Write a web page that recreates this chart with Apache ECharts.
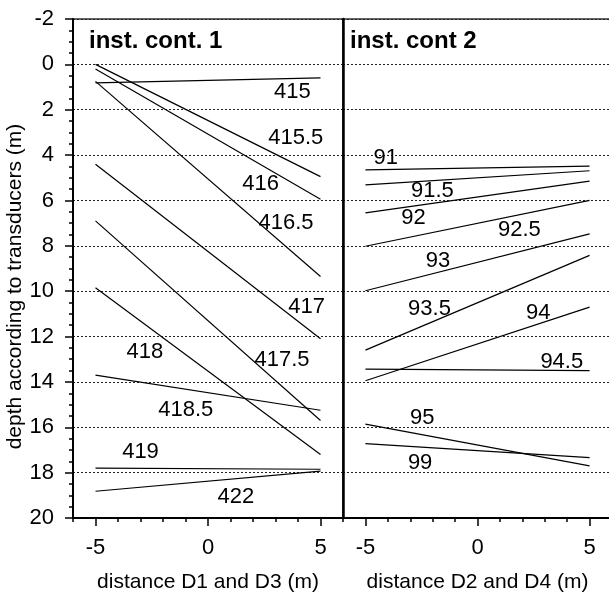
<!DOCTYPE html>
<html>
<head>
<meta charset="utf-8">
<script src="https://cdn.jsdelivr.net/npm/echarts@6/dist/echarts.min.js"></script>
<style>
html, body { margin: 0; padding: 0; background: #fff; }
#chart { width: 609px; height: 596px; }
</style>
</head>
<body>
<div id="chart"></div>
<script>
// both panels: every line runs from x = -5 to x = 5
const xEnds = [-5, 5];

// left panel (inst. cont. 1)
const leftNames = ['415', '415.5', '416', '416.5', '417', '417.5', '418', '418.5', '419', '422'];
const leftStart = [0.82, 0.0, 0.2, 0.75, 4.4, 6.9, 9.85, 13.7, 17.8, 18.82];
const leftEnd = [0.6, 4.95, 5.95, 9.35, 12.1, 15.7, 17.2, 15.25, 17.85, 17.93];
const leftLabelX = [3.75, 3.9, 2.34, 3.47, 4.38, 3.29, -2.81, -0.99, -3.0, 1.24];
const leftLabelY = [1.2, 3.25, 5.25, 7.0, 10.68, 13.03, 12.67, 15.23, 17.1, 19.06];

// right panel (inst. cont 2)
const rightNames = ['91', '91.5', '92', '92.5', '93', '93.5', '94', '94.5', '95', '99'];
const rightStart = [4.65, 5.31, 6.55, 8.02, 9.98, 12.6, 13.95, 13.44, 15.86, 16.72];
const rightEnd = [4.49, 4.69, 5.15, 6.0, 7.47, 8.42, 10.7, 13.5, 17.7, 17.34];
const rightLabelX = [-4.09, -2.01, -2.86, 1.87, -1.76, -2.14, 2.71, 3.76, -2.47, -2.56];
const rightLabelY = [4.12, 5.6, 6.78, 7.32, 8.67, 10.77, 10.95, 13.1, 15.57, 17.56];

const majorX = [-5, 0, 5];

const font = "'Liberation Sans', Arial, sans-serif";
const chart = echarts.init(document.getElementById('chart'));

lineSeries = (names, starts, ends, idx) => names.map((n, i) => ({
    name: n,
    type: 'line',
    xAxisIndex: idx,
    yAxisIndex: idx,
    data: [[xEnds[0], starts[i]], [xEnds[1], ends[i]]],
    symbol: 'none',
    silent: true,
    lineStyle: {color: '#000', width: 1.2}
}));

labelSeries = (names, xs, ys, idx) => ({
    type: 'scatter',
    xAxisIndex: idx,
    yAxisIndex: idx,
    symbolSize: 0,
    silent: true,
    itemStyle: {opacity: 1, color: '#000'},
    data: names.map((n, i) => [xs[i], ys[i], n]),
    label: {
        show: true,
        position: 'inside',
        formatter: p => p.data[2],
        color: '#000',
        opacity: 1,
        textBorderWidth: 0,
        fontSize: 22,
        fontFamily: font
    }
});

xMain = (grid, name) => ({
    gridIndex: grid,
    type: 'value',
    min: -6,
    max: 6,
    interval: 1,
    axisLine: {onZero: false, lineStyle: {color: '#000', width: 2}},
    axisTick: {length: 4, lineStyle: {color: '#000', width: 1.5}},
    axisLabel: {
        margin: 19,
        color: '#000',
        fontSize: 22,
        fontFamily: font,
        formatter: v => majorX.includes(v) ? String(v) : ''
    },
    splitLine: {show: false},
    name: name,
    nameLocation: 'middle',
    nameGap: 54,
    nameTextStyle: {color: '#000', fontSize: 21, fontFamily: font}
});

xMajorTicks = grid => ({
    gridIndex: grid,
    type: 'value',
    position: 'bottom',
    min: -6,
    max: 6,
    axisLine: {show: false, onZero: false},
    axisTick: {show: true, customValues: majorX, length: 8, lineStyle: {color: '#000', width: 1.5}},
    axisLabel: {show: false},
    splitLine: {show: false}
});

const dotted = {color: '#222', width: 1, type: [2, 2]};

const option = {
    animation: false,
    backgroundColor: '#fff',
    textStyle: {fontFamily: font},
    title: [
        {text: 'inst. cont. 1', left: 89, top: 29, padding: 0,
            textStyle: {fontSize: 24, fontWeight: 'bold', color: '#000', fontFamily: font}},
        {text: 'inst. cont 2', left: 350, top: 29, padding: 0,
            textStyle: {fontSize: 24, fontWeight: 'bold', color: '#000', fontFamily: font}}
    ],
    grid: [
        {left: 73, top: 19, width: 270, height: 499, outerBoundsMode: 'none',
            show: true, borderColor: '#333', borderWidth: 1.5},
        {left: 343, top: 19, width: 269, height: 499, outerBoundsMode: 'none',
            show: true, borderColor: '#333', borderWidth: 1.5}
    ],
    xAxis: [
        xMain(0, 'distance D1 and D3 (m)'),
        xMain(1, 'distance D2 and D4 (m)'),
        xMajorTicks(0),
        xMajorTicks(1)
    ],
    yAxis: [
        {
            gridIndex: 0,
            type: 'value',
            inverse: true,
            min: -2,
            max: 20,
            interval: 2,
            axisLine: {show: true, onZero: false, lineStyle: {color: '#000', width: 2}},
            axisTick: {show: true, length: 8, lineStyle: {color: '#000', width: 1.5}},
            minorTick: {show: true, splitNumber: 4, length: 4, lineStyle: {color: '#000', width: 1.5}},
            axisLabel: {margin: 19, color: '#000', fontSize: 22, fontFamily: font},
            splitLine: {show: true, lineStyle: dotted},
            name: 'depth according to transducers (m)',
            nameLocation: 'middle',
            nameGap: 47,
            nameTextStyle: {color: '#000', fontSize: 21, fontFamily: font, padding: [0, 36, 0, 0]}
        },
        {
            gridIndex: 1,
            type: 'value',
            inverse: true,
            min: -2,
            max: 20,
            interval: 2,
            axisLine: {show: true, onZero: false, lineStyle: {color: '#000', width: 2.5}},
            axisTick: {show: false},
            axisLabel: {show: false},
            splitLine: {show: true, lineStyle: dotted}
        }
    ],
    series: [
        ...lineSeries(leftNames, leftStart, leftEnd, 0),
        ...lineSeries(rightNames, rightStart, rightEnd, 1),
        labelSeries(leftNames, leftLabelX, leftLabelY, 0),
        labelSeries(rightNames, rightLabelX, rightLabelY, 1)
    ]
};

chart.setOption(option);
</script>
</body>
</html>
